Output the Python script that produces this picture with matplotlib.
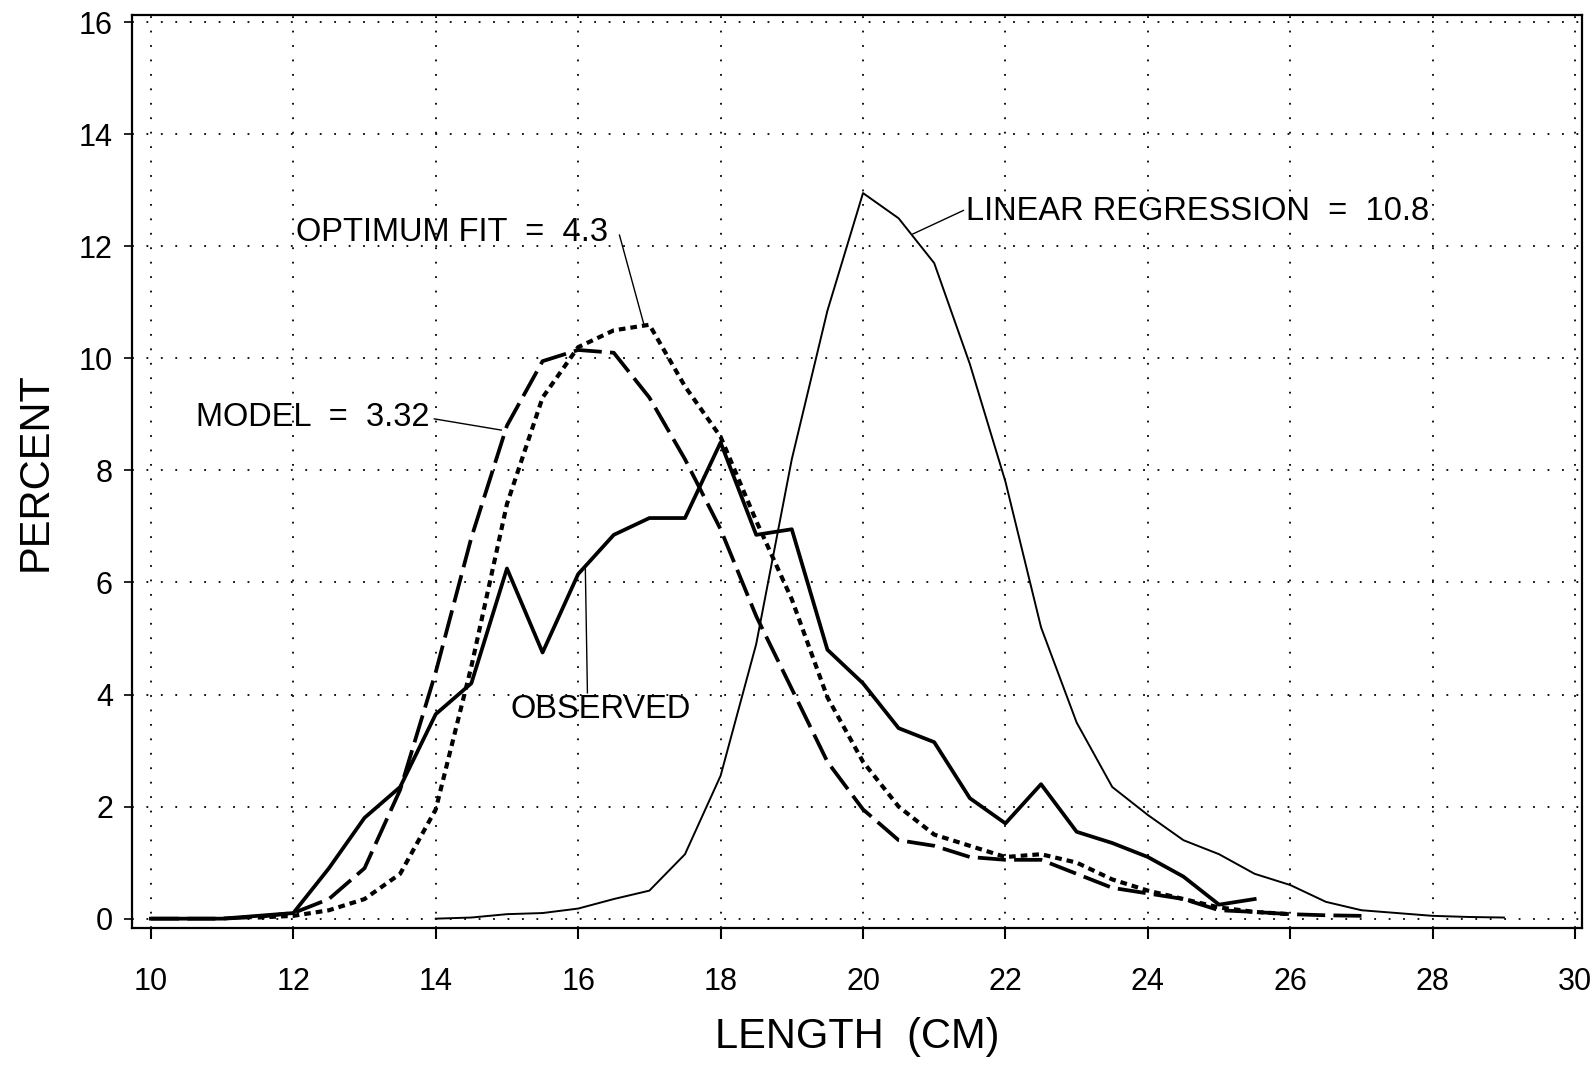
import numpy as np
import matplotlib
matplotlib.use("Agg")
import matplotlib.pyplot as plt

plt.rcParams['font.family'] = ['Liberation Sans', 'DejaVu Sans']

# observed length frequencies
obs_x = [10, 10.5, 11, 11.5, 12, 12.5, 13, 13.5, 14, 14.5, 15, 15.5, 16, 16.5, 17, 17.5,
         18, 18.5, 19, 19.5, 20, 20.5, 21, 21.5, 22, 22.5, 23, 23.5, 24, 24.5, 25, 25.5]
obs_y = [0, 0, 0, 0.05, 0.1, 0.9, 1.8, 2.35, 3.65, 4.2, 6.25, 4.75, 6.15, 6.85, 7.15, 7.15,
         8.5, 6.85, 6.95, 4.8, 4.2, 3.4, 3.15, 2.15, 1.7, 2.4, 1.55, 1.35, 1.1, 0.75, 0.25, 0.35]

# model = 3.32
mod_x = [10, 10.5, 11, 11.5, 12, 12.5, 13, 13.5, 14, 14.5, 15, 15.5, 16, 16.5, 17, 17.5,
         18, 18.5, 19, 19.5, 20, 20.5, 21, 21.5, 22, 22.5, 23, 23.5, 24, 24.5, 25, 25.5,
         26, 26.5, 27]
mod_y = [0, 0, 0, 0.03, 0.1, 0.35, 0.9, 2.3, 4.4, 6.8, 8.8, 9.95, 10.15, 10.1, 9.3, 8.2,
         6.95, 5.4, 4.1, 2.8, 1.95, 1.4, 1.3, 1.1, 1.05, 1.05, 0.8, 0.55, 0.45, 0.35, 0.15, 0.12,
         0.08, 0.06, 0.05]

# optimum fit = 4.3
opt_x = [11.5, 12, 12.5, 13, 13.5, 14, 14.5, 15, 15.5, 16, 16.5, 17, 17.5, 18, 18.5, 19,
         19.5, 20, 20.5, 21, 21.5, 22, 22.5, 23, 23.5, 24, 24.5, 25, 25.5, 26]
opt_y = [0.02, 0.05, 0.15, 0.35, 0.8, 1.95, 4.5, 7.4, 9.3, 10.2, 10.5, 10.6, 9.5, 8.6, 7.1, 5.7,
         3.95, 2.8, 2.0, 1.5, 1.3, 1.1, 1.15, 1.0, 0.7, 0.5, 0.35, 0.2, 0.12, 0.08]

# linear regression = 10.8
lin_x = [14, 14.5, 15, 15.5, 16, 16.5, 17, 17.5, 18, 18.5, 19, 19.5, 20, 20.5, 21, 21.5,
         22, 22.5, 23, 23.5, 24, 24.5, 25, 25.5, 26, 26.5, 27, 27.5, 28, 28.5, 29]
lin_y = [0, 0.02, 0.08, 0.1, 0.18, 0.35, 0.5, 1.15, 2.55, 4.9, 8.2, 10.85, 12.95, 12.5, 11.7, 9.9,
         7.8, 5.2, 3.5, 2.35, 1.85, 1.4, 1.15, 0.8, 0.6, 0.3, 0.15, 0.1, 0.05, 0.03, 0.02]

fig = plt.figure(figsize=(15.95, 10.65), dpi=100)
ax = fig.add_axes([0.083, 0.129, 0.909, 0.857])

ax.plot(lin_x, lin_y, color='black', lw=1.4)
ax.plot(obs_x, obs_y, color='black', lw=2.7)
ax.plot(mod_x, mod_y, color='black', lw=2.7, linestyle=(0, (7.5, 2.2)))
ax.plot(opt_x, opt_y, color='black', lw=3.0, linestyle=(0, (1.6, 1.2)))

# labels with leader lines
ax.text(12.04, 12.24, 'OPTIMUM FIT  =  4.3', fontsize=23.5, va='center', ha='left')
ax.plot([16.58, 16.92], [12.2, 10.62], color='black', lw=1)
ax.text(10.63, 8.94, 'MODEL  =  3.32', fontsize=23.5, va='center', ha='left')
ax.plot([13.98, 14.92], [8.92, 8.72], color='black', lw=1)
ax.text(15.05, 3.74, 'OBSERVED', fontsize=23.5, va='center', ha='left')
ax.plot([16.13, 16.1], [4.03, 6.3], color='black', lw=1)
ax.text(21.44, 12.62, 'LINEAR REGRESSION  =  10.8', fontsize=23.5, va='center', ha='left')
ax.plot([21.41, 20.7], [12.64, 12.22], color='black', lw=1)

ax.set_xlim(9.74, 30.1)
ax.set_ylim(-0.16, 16.13)
ax.set_xticks(range(10, 31, 2))
ax.set_yticks(range(0, 17, 2))
ax.grid(True, color='black', linestyle=(0, (1, 7)), lw=1.3)
ax.tick_params(axis='x', direction='out', length=8, width=1.5, labelsize=22, pad=20)
ax.tick_params(axis='y', direction='out', length=6, width=1.2, labelsize=22, pad=8)
for s in ax.spines.values():
    s.set_linewidth(1.6)

ax.set_xlabel('LENGTH  (CM)', fontsize=30)
ax.set_ylabel('PERCENT', fontsize=30)
ax.xaxis.set_label_coords(0.5, -0.12)
ax.xaxis.label.set_va('center')
ax.yaxis.set_label_coords(-0.067, 0.5)
ax.yaxis.label.set_va('center')

fig.savefig('out.png', dpi=100)
